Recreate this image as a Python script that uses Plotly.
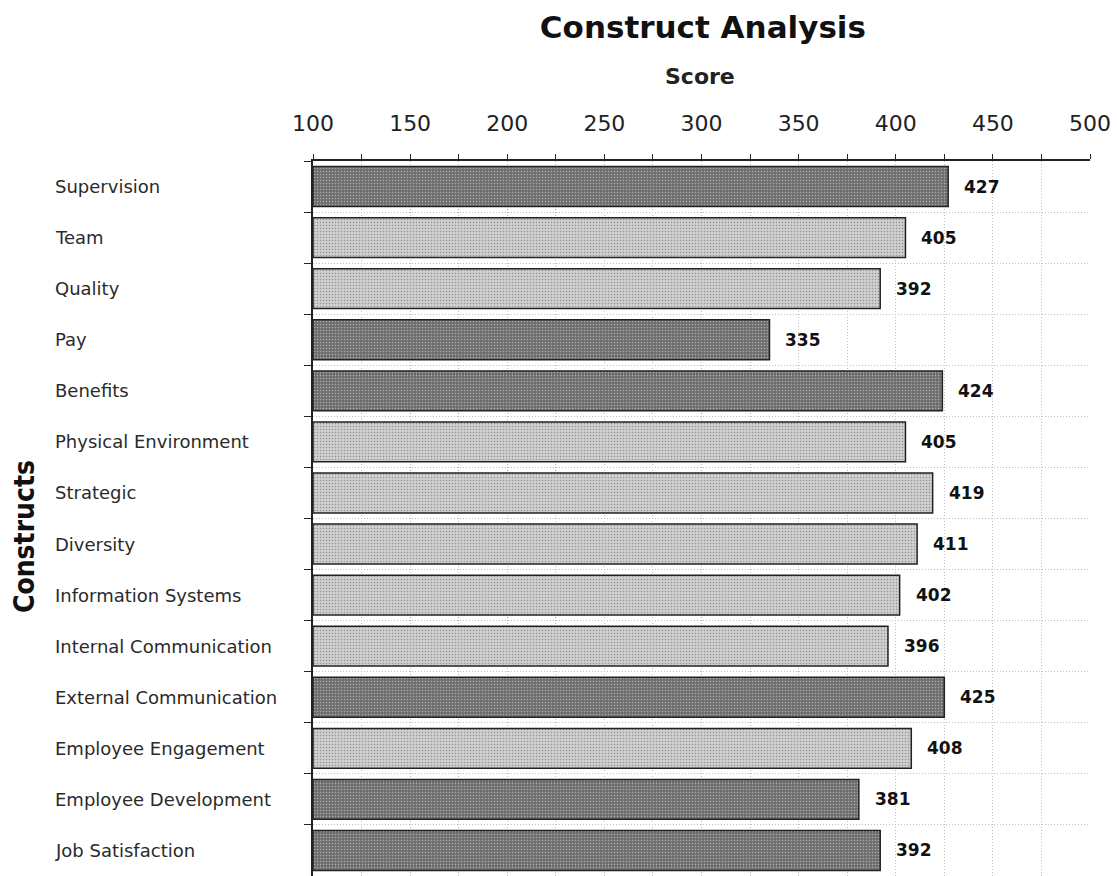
import plotly.graph_objects as go

categories = ["Supervision", "Team", "Quality", "Pay", "Benefits", "Physical Environment",
              "Strategic", "Diversity", "Information Systems", "Internal Communication",
              "External Communication", "Employee Engagement", "Employee Development",
              "Job Satisfaction"]
scores = [427, 405, 392, 335, 424, 405, 419, 411, 402, 396, 425, 408, 381, 392]
highlight = [True, False, False, True, True, False, False, False, False, False,
             True, False, True, True]

x_min, x_max = 100, 500
dark_col = "#6e6e6e"
light_col = "#cfcfcf"

colors = [dark_col if h else light_col for h in highlight]
base = [x_min] * len(scores)
lengths = [s - x_min for s in scores]

fig = go.Figure()
fig.add_trace(go.Bar(
    y=categories, x=lengths, base=base, orientation="h",
    marker=dict(color=colors, line=dict(color="#222222", width=1.5),
                pattern=dict(shape=".", size=3, solidity=0.2, fgcolor="#9a9a9a", fgopacity=0.45)),
    width=0.78, hoverinfo="skip", showlegend=False,
))

# value labels
for c, s in zip(categories, scores):
    fig.add_annotation(x=s, y=c, text=f"<b>{s}</b>", showarrow=False, xanchor="left",
                       xshift=14, font=dict(family="DejaVu Sans", size=17, color="#111111"))
# category labels (left aligned)
for c in categories:
    fig.add_annotation(x=-0.334, xref="paper", y=c, text=c, showarrow=False, xanchor="left",
                       font=dict(family="DejaVu Sans", size=18, color="#2a2a2a"))

fig.add_annotation(x=-0.371, xref="paper", y=0.475, yref="paper", text="<b>Constructs</b>",
                   textangle=-90, showarrow=False, xanchor="center", yanchor="middle",
                   borderpad=0,
                   font=dict(family="DejaVu Sans Condensed", size=28, color="#111111"))
fig.add_annotation(x=0.498, xref="paper", y=1.1175, yref="paper", text="<b>Score</b>",
                   showarrow=False, yanchor="middle", xanchor="center",
                   font=dict(family="DejaVu Sans", size=22, color="#222222"))

fig.update_layout(
    width=1119, height=876,
    margin=dict(l=305, r=37, t=153, b=8),
    plot_bgcolor="white", paper_bgcolor="white",
    title=dict(text="<b>Construct Analysis</b>", x=0.621, xanchor="center", y=0.978, yanchor="middle",
               font=dict(family="DejaVu Sans", size=31, color="#111111")),
)
fig.update_xaxes(
    side="top", range=[x_min, x_max], dtick=50, tick0=100,
    showgrid=True, gridcolor="#bdbdbd", griddash="1px,2px", gridwidth=1,
    minor=dict(dtick=25, showgrid=True, gridcolor="#bdbdbd", griddash="1px,2px",
               ticks="outside", ticklen=5, tickcolor="#222"),
    ticks="outside", ticklen=5, tickcolor="#222", ticklabelstandoff=14,
    showline=True, linecolor="#222", linewidth=1.5,
    tickfont=dict(family="DejaVu Sans", size=22, color="#222"),
    zeroline=False, fixedrange=True,
)
fig.update_yaxes(
    autorange="reversed", tickson="boundaries", showticklabels=False,
    showgrid=True, gridcolor="#bdbdbd", griddash="1px,2px", gridwidth=1,
    ticks="outside", ticklen=7, tickcolor="#222",
    showline=True, linecolor="#222", linewidth=2,
    fixedrange=True,
)

fig.write_html("out.html")
